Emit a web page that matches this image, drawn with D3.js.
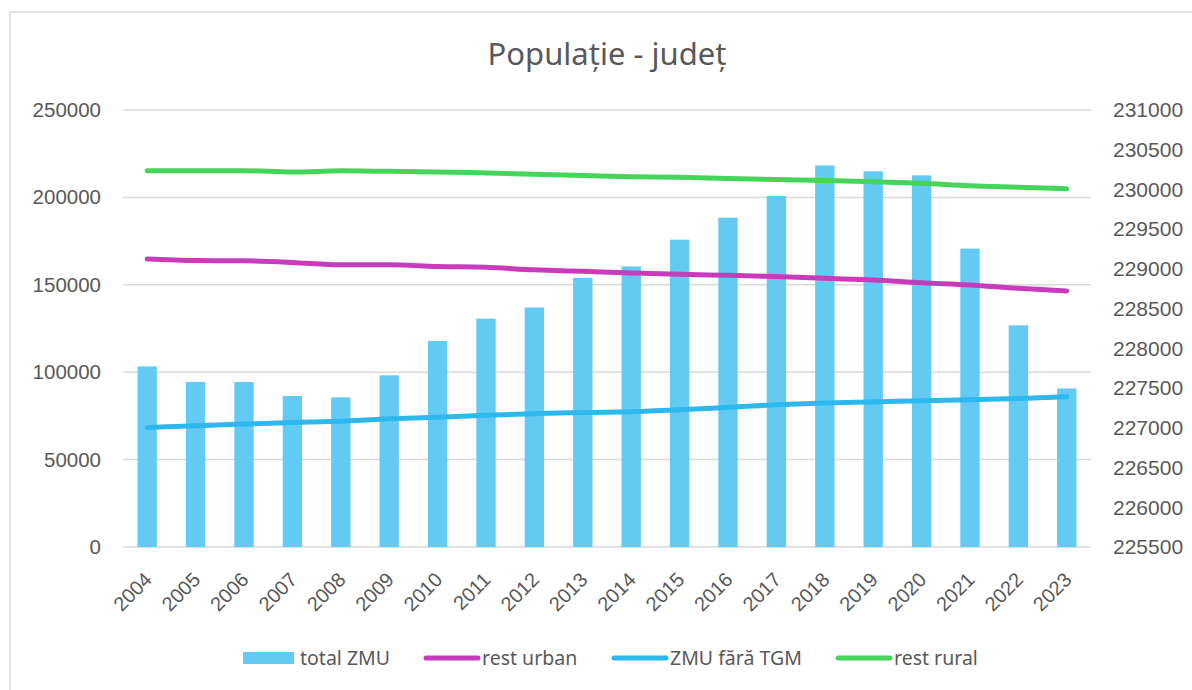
<!DOCTYPE html>
<html>
<head>
<meta charset="utf-8">
<script src="https://cdn.jsdelivr.net/npm/d3@7/dist/d3.min.js"></script>
<style>
  body { margin: 0; background: #fff; }
  svg text { fill: #595959; }
</style>
</head>
<body>
<svg id="chart" width="1192" height="690"></svg>
<script>
const years = d3.range(2004, 2024).map(String);
const totalZMU = [103300, 94400, 94400, 86400, 85600, 98200, 117900, 130600, 137000, 154000,
  160500, 175800, 188400, 200800, 218300, 214900, 212600, 170700, 126800, 90700];
const restUrban = [164800, 163900, 163700, 162800, 161500, 161500, 160500, 160000, 158600, 157700,
  156800, 156000, 155400, 154700, 153700, 152800, 151200, 149900, 148000, 146500];
const zmuFaraTGM = [68400, 69400, 70300, 71200, 72000, 73300, 74200, 75400, 76300, 77000,
  77400, 78500, 79900, 81400, 82400, 83000, 83700, 84300, 85000, 86000];
const restRural = [215300, 215300, 215300, 214500, 215200, 214900, 214600, 214000, 213200, 212500,
  211800, 211500, 210800, 210200, 209600, 209000, 208100, 206600, 205800, 205000];
const leftTicks = [0, 50000, 100000, 150000, 200000, 250000];
const rightTicks = [225500, 226000, 226500, 227000, 227500, 228000, 228500, 229000, 229500, 230000, 230500, 231000];

const lineSeries = [
  { name: "rest urban", values: restUrban, color: "#C83CBB" },
  { name: "ZMU fără TGM", values: zmuFaraTGM, color: "#2DB8EE" },
  { name: "rest rural", values: restRural, color: "#47D45A" },
];
const BAR_COLOR = "#62CAF3";

const svg = d3.select("#chart");
const plot = { left: 123, right: 1091, top: 110, bottom: 547 };

// chart frame
svg.append("rect")
  .attr("x", 10).attr("y", 12)
  .attr("width", 1300).attr("height", 800)
  .attr("fill", "none")
  .attr("stroke", "#D9D9D9")
  .attr("stroke-width", 1.5);

const x = d3.scaleBand().domain(years).range([plot.left, plot.right]).paddingInner(0.6).paddingOuter(0.3);
const xc = d3.scaleBand().domain(years).range([plot.left, plot.right]);
const y = d3.scaleLinear().domain([0, 250000]).range([plot.bottom, plot.top]);
const y2 = d3.scaleLinear().domain([225500, 231000]).range([plot.bottom, plot.top]);

// gridlines
svg.append("g")
  .selectAll("line")
  .data(leftTicks)
  .join("line")
  .attr("x1", plot.left).attr("x2", plot.right)
  .attr("y1", (d) => y(d)).attr("y2", (d) => y(d))
  .attr("stroke", "#D9D9D9")
  .attr("stroke-width", 1.5);

// left axis
const leftAxis = svg.append("g")
  .attr("transform", `translate(${plot.left},0)`)
  .call(d3.axisLeft(y).tickValues(leftTicks).tickSize(0).tickPadding(22).tickFormat(d3.format("d")));
leftAxis.select(".domain").remove();
leftAxis.selectAll("text")
  .style("font-family", "'Liberation Sans', Arial, sans-serif")
  .style("font-size", "20.5px")
  .attr("fill", "#595959");

// right axis
const rightAxis = svg.append("g")
  .attr("transform", `translate(${plot.right},0)`)
  .call(d3.axisRight(y2).tickValues(rightTicks).tickSize(0).tickPadding(22).tickFormat(d3.format("d")));
rightAxis.select(".domain").remove();
rightAxis.selectAll("text")
  .style("font-family", "'Liberation Sans', Arial, sans-serif")
  .style("font-size", "21px")
  .attr("fill", "#595959");

// bottom axis
const bottomAxis = svg.append("g")
  .attr("transform", `translate(0,${plot.bottom})`)
  .call(d3.axisBottom(xc).tickSize(0).tickPadding(0));
bottomAxis.select(".domain").remove();
bottomAxis.selectAll("text")
  .style("font-family", "'Liberation Sans', Arial, sans-serif")
  .style("font-size", "20px")
  .attr("fill", "#595959")
  .attr("text-anchor", "end")
  .attr("dy", "0.35em")
  .attr("transform", "translate(1,29) rotate(-45)");

// bars
svg.append("g")
  .selectAll("rect")
  .data(years)
  .join("rect")
  .attr("x", (d) => x(d))
  .attr("width", x.bandwidth())
  .attr("y", (d, i) => y(totalZMU[i]))
  .attr("height", (d, i) => y(0) - y(totalZMU[i]))
  .attr("fill", BAR_COLOR);

// lines
const line = d3.line()
  .x((d, i) => xc(years[i]) + xc.bandwidth() / 2)
  .y((d) => y(d))
  .curve(d3.curveMonotoneX);

svg.append("g")
  .selectAll("path")
  .data(lineSeries)
  .join("path")
  .attr("d", (s) => line(s.values))
  .attr("fill", "none")
  .attr("stroke", (s) => s.color)
  .attr("stroke-width", 5)
  .attr("stroke-linecap", "round")
  .attr("stroke-linejoin", "round");

// title
svg.append("text")
  .attr("x", (plot.left + plot.right) / 2)
  .attr("y", 65)
  .attr("text-anchor", "middle")
  .style("font-family", "'Noto Sans', sans-serif")
  .style("font-size", "31px")
  .text("Populație - județ");

// legend
const legendItems = [
  { name: "total ZMU", color: BAR_COLOR, type: "bar", x: 243 },
  { name: "rest urban", color: lineSeries[0].color, type: "line", x: 424 },
  { name: "ZMU fără TGM", color: lineSeries[1].color, type: "line", x: 612 },
  { name: "rest rural", color: lineSeries[2].color, type: "line", x: 836 },
];
const legend = svg.append("g").attr("transform", "translate(0,658)");
legendItems.forEach((item) => {
  const gItem = legend.append("g").attr("transform", `translate(${item.x},0)`);
  if (item.type === "bar") {
    gItem.append("rect")
      .attr("x", 0).attr("y", -6)
      .attr("width", 51).attr("height", 12)
      .attr("fill", item.color);
  } else {
    gItem.append("line")
      .attr("x1", 2).attr("x2", 54)
      .attr("y1", 0).attr("y2", 0)
      .attr("stroke", item.color)
      .attr("stroke-width", 5)
      .attr("stroke-linecap", "round");
  }
  gItem.append("text")
    .attr("x", item.type === "bar" ? 57 : 58)
    .attr("y", 0)
    .attr("dy", "0.35em")
    .style("font-family", "'Noto Sans', sans-serif")
    .style("font-size", "19.5px")
    .text(item.name);
});
</script>
</body>
</html>
